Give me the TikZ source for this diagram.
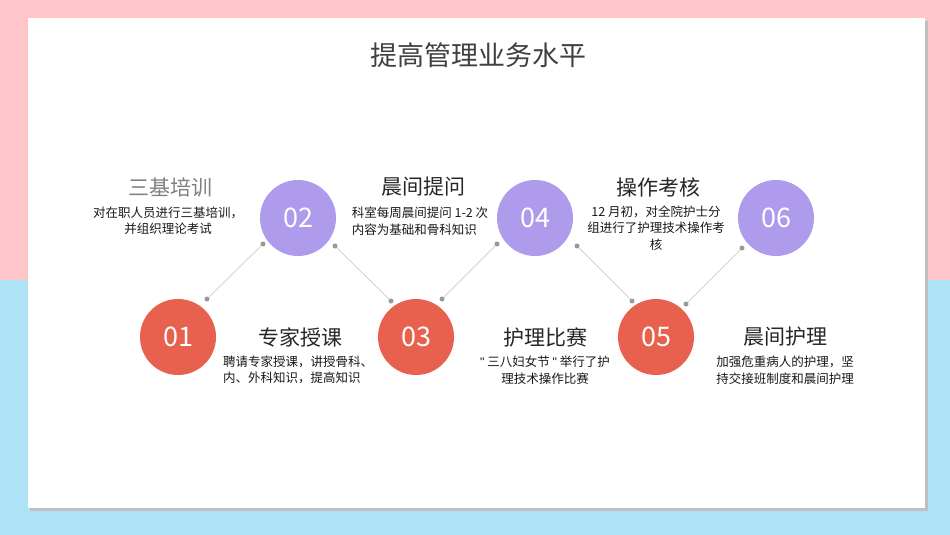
\documentclass[tikz,border=0pt]{standalone}
\usepackage{fontspec}
\setmainfont{Noto Sans CJK SC}
\newfontfamily\qfont{Liberation Sans}
\begin{document}
\begin{tikzpicture}[x=1pt,y=-1pt,
  circP/.style={circle,fill=cP,minimum size=76pt,inner sep=0pt,text=white,font=\fontsize{27}{27}\selectfont},
  circR/.style={circle,fill=cR,minimum size=76pt,inner sep=0pt,text=white,font=\fontsize{27}{27}\selectfont},
  head/.style={text=black!85,font=\fontsize{21}{22}\selectfont},
  body/.style={text=black!90,align=center,font=\fontsize{12.5}{16.5}\selectfont},
  dot/.style={circle,fill=gray!80,minimum size=5pt,inner sep=0pt},
  conn/.style={draw=gray!40,line width=0.7pt}]
\definecolor{cP}{HTML}{AE9BEC}
\definecolor{cR}{HTML}{E8604E}
\definecolor{bgP}{HTML}{FFC6C9}
\definecolor{bgB}{HTML}{ADE3F5}
\useasboundingbox (0,0) rectangle (950,535);
\fill[bgP] (0,0) rectangle (950,280);
\fill[bgB] (0,280) rectangle (950,535);
\fill[black!25] (30,21) rectangle (928,511);
\fill[white] (28,18) rectangle (925,508);
\node[text=black!75,font=\fontsize{27}{27}\selectfont] (title) at (478,55) {提高管理业务水平};
\node[circR] (c1) at (178,337) {01};
\node[circP] (c2) at (298,218) {02};
\node[circR] (c3) at (416,337) {03};
\node[circP] (c4) at (535,218) {04};
\node[circR] (c5) at (656,337) {05};
\node[circP] (c6) at (776,218) {06};
\node[dot] (d1a) at (263,244) {}; \node[dot] (d1b) at (207,299) {};
\node[dot] (d2a) at (335,246) {}; \node[dot] (d2b) at (391,301) {};
\node[dot] (d3a) at (497,244) {}; \node[dot] (d3b) at (442,299) {};
\node[dot] (d4a) at (577,246) {}; \node[dot] (d4b) at (632,301) {};
\node[dot] (d5a) at (742,248) {}; \node[dot] (d5b) at (686,304) {};
\draw[conn] (d1a)--(d1b); \draw[conn] (d2a)--(d2b); \draw[conn] (d3a)--(d3b);
\draw[conn] (d4a)--(d4b); \draw[conn] (d5a)--(d5b);
\node[head,text=gray] (h0) at (170,187) {三基培训};
\node[body] (b0) at (168,221) {对在职人员进行三基培训，\\并组织理论考试};
\node[head] (h2) at (423,187) {晨间提问};
\node[body,align=left] (b2) at (420,221) {科室每周晨间提问 1-2 次\\内容为基础和骨科知识};
\node[head] (h4) at (658,187) {操作考核};
\node[body] (b4) at (656,228) {12 月初，对全院护士分\\组进行了护理技术操作考\\核};
\node[head] (h1) at (300,337) {专家授课};
\node[body,align=left] (b1) at (298,370) {聘请专家授课，讲授骨科、\\内、外科知识，提高知识};
\node[head] (h3) at (545,337) {护理比赛};
\node[body] (b3) at (545,370) {{\qfont"} 三八妇女节 {\qfont"} 举行了护\\理技术操作比赛};
\node[head] (h5) at (785,337) {晨间护理};
\node[body] (b5) at (785,370) {加强危重病人的护理，坚\\持交接班制度和晨间护理};
\end{tikzpicture}
\end{document}
